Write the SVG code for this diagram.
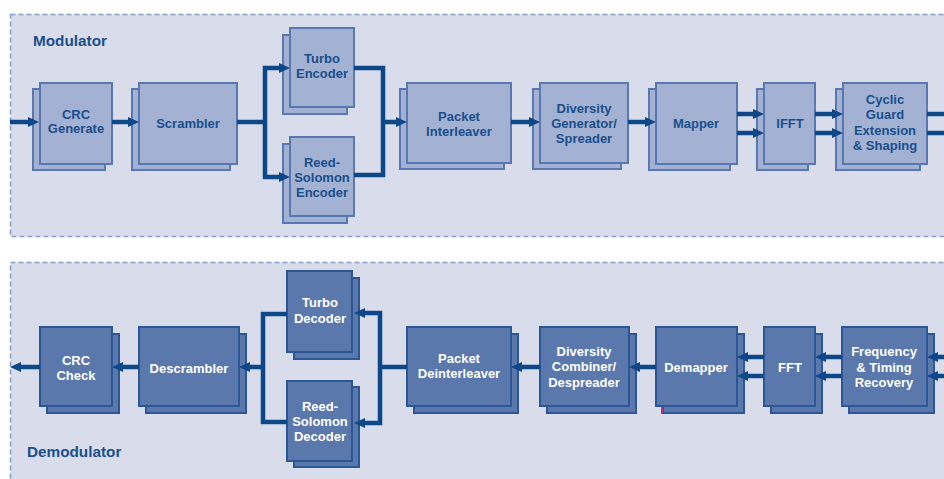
<svg xmlns="http://www.w3.org/2000/svg" width="944" height="479" viewBox="0 0 944 479">
<style>
.panel{fill:#d9ddeb;stroke:#8a9dca;stroke-width:1.6;stroke-dasharray:5 3}
.plabel{font-family:"Liberation Sans",Arial,sans-serif;font-weight:bold;font-size:15.3px;fill:#1a4f8c}
.tm rect{fill:#a3b1d3;stroke:#5977b1;stroke-width:2}
.bm rect{fill:#5b78ad;stroke:#2d5696;stroke-width:2}
.t{font-family:"Liberation Sans",Arial,sans-serif;font-weight:bold;font-size:13px;text-anchor:middle}
.tm text{fill:#1a4f8c}
.bm text{fill:#ffffff}
.c path{fill:none;stroke:#0c4788;stroke-width:4.5;stroke-linejoin:miter}
</style>
<defs>
<marker id="ah" viewBox="0 0 11 11" refX="2" refY="5.5" markerWidth="11" markerHeight="11" markerUnits="userSpaceOnUse" orient="auto-start-reverse">
<path d="M0,0.5 L11,5.5 L0,10.5 z" fill="#0c4788"/>
</marker>
</defs>
<rect width="944" height="479" fill="#ffffff"/>
<rect class="panel" x="10.5" y="14.5" width="960" height="222"/>
<rect class="panel" x="10.5" y="262.5" width="960" height="240"/>
<text class="plabel" x="33" y="46">Modulator</text>
<text class="plabel" x="27" y="457">Demodulator</text>

<g id="crc-generate" class="tm">
<rect x="33" y="89" width="72" height="81"/><rect x="40" y="83" width="72" height="81"/>
<text class="t" x="76" y="119">CRC</text><text class="t" x="76" y="133">Generate</text>
</g>
<g id="scrambler" class="tm">
<rect x="132" y="89" width="98" height="81"/><rect x="139" y="83" width="98" height="81"/>
<text class="t" x="188" y="128">Scrambler</text>
</g>
<g id="turbo-encoder" class="tm">
<rect x="283" y="35" width="64" height="79"/><rect x="290" y="28" width="64" height="79"/>
<text class="t" x="322" y="63">Turbo</text><text class="t" x="322" y="78">Encoder</text>
</g>
<g id="rs-encoder" class="tm">
<rect x="283" y="144" width="64" height="79"/><rect x="290" y="137" width="64" height="79"/>
<text class="t" x="322" y="167">Reed-</text><text class="t" x="322" y="182">Solomon</text><text class="t" x="322" y="197">Encoder</text>
</g>
<g id="packet-interleaver" class="tm">
<rect x="400" y="89" width="104" height="80"/><rect x="407" y="83" width="104" height="80"/>
<text class="t" x="459" y="121">Packet</text><text class="t" x="459" y="136">Interleaver</text>
</g>
<g id="diversity-generator" class="tm">
<rect x="533" y="89" width="88" height="80"/><rect x="540" y="83" width="88" height="80"/>
<text class="t" x="584" y="113">Diversity</text><text class="t" x="584" y="128">Generator/</text><text class="t" x="584" y="143">Spreader</text>
</g>
<g id="mapper" class="tm">
<rect x="649" y="89" width="81" height="81"/><rect x="656" y="83" width="81" height="81"/>
<text class="t" x="696" y="128">Mapper</text>
</g>
<g id="ifft" class="tm">
<rect x="757" y="89" width="51" height="81"/><rect x="764" y="83" width="51" height="81"/>
<text class="t" x="790" y="128">IFFT</text>
</g>
<g id="cyclic-guard" class="tm">
<rect x="836" y="89" width="84" height="81"/><rect x="843" y="83" width="84" height="81"/>
<text class="t" x="885" y="104">Cyclic</text><text class="t" x="885" y="119">Guard</text><text class="t" x="885" y="135">Extension</text><text class="t" x="885" y="150">&amp; Shaping</text>
</g>

<g id="crc-check" class="bm">
<rect x="47" y="334" width="72" height="79"/><rect x="40" y="327" width="72" height="79"/>
<text class="t" x="76" y="365">CRC</text><text class="t" x="76" y="380">Check</text>
</g>
<g id="descrambler" class="bm">
<rect x="146" y="334" width="100" height="79"/><rect x="139" y="327" width="100" height="79"/>
<text class="t" x="189" y="373">Descrambler</text>
</g>
<g id="turbo-decoder" class="bm">
<rect x="294" y="278" width="65" height="81"/><rect x="287" y="271" width="65" height="81"/>
<text class="t" x="320" y="307">Turbo</text><text class="t" x="320" y="323">Decoder</text>
</g>
<g id="rs-decoder" class="bm">
<rect x="294" y="387" width="65" height="80"/><rect x="287" y="381" width="65" height="80"/>
<text class="t" x="320" y="411">Reed-</text><text class="t" x="320" y="426">Solomon</text><text class="t" x="320" y="441">Decoder</text>
</g>
<g id="packet-deinterleaver" class="bm">
<rect x="414" y="334" width="104" height="79"/><rect x="407" y="327" width="104" height="79"/>
<text class="t" x="459" y="363">Packet</text><text class="t" x="459" y="378">Deinterleaver</text>
</g>
<g id="diversity-combiner" class="bm">
<rect x="547" y="334" width="89" height="79"/><rect x="540" y="327" width="89" height="79"/>
<text class="t" x="584" y="356">Diversity</text><text class="t" x="584" y="371">Combiner/</text><text class="t" x="584" y="387">Despreader</text>
</g>
<g id="demapper" class="bm">
<rect x="663" y="334" width="81" height="79"/><rect x="656" y="327" width="81" height="79"/>
<text class="t" x="696" y="372">Demapper</text>
</g>
<g id="fft" class="bm">
<rect x="771" y="334" width="51" height="79"/><rect x="764" y="327" width="51" height="79"/>
<text class="t" x="790" y="372">FFT</text>
</g>
<g id="freq-timing" class="bm">
<rect x="849" y="334" width="85" height="79"/><rect x="842" y="327" width="85" height="79"/>
<text class="t" x="884" y="356">Frequency</text><text class="t" x="884" y="372">&amp; Timing</text><text class="t" x="884" y="387">Recovery</text>
</g>
<rect x="661" y="407" width="2" height="7" fill="#c0307a"/>

<g class="c">
<path d="M10,122 H30" marker-end="url(#ah)"/>
<path d="M112,122 H130" marker-end="url(#ah)"/>
<path d="M237,122 H265"/>
<path d="M281,68 H265 V177 H281" marker-start="url(#ah)" marker-end="url(#ah)"/>
<path d="M354,68 H383 V175 H354"/>
<path d="M383,122 H398" marker-end="url(#ah)"/>
<path d="M511,122 H531" marker-end="url(#ah)"/>
<path d="M628,122 H647" marker-end="url(#ah)"/>
<path d="M737,114 H755" marker-end="url(#ah)"/>
<path d="M737,133 H755" marker-end="url(#ah)"/>
<path d="M815,114 H834" marker-end="url(#ah)"/>
<path d="M815,133 H834" marker-end="url(#ah)"/>
<path d="M927,114 H946"/>
<path d="M927,133 H946"/>

<path d="M946,357 H936" marker-end="url(#ah)"/>
<path d="M946,376 H936" marker-end="url(#ah)"/>
<path d="M842,357 H824" marker-end="url(#ah)"/>
<path d="M842,376 H824" marker-end="url(#ah)"/>
<path d="M764,357 H746" marker-end="url(#ah)"/>
<path d="M764,376 H746" marker-end="url(#ah)"/>
<path d="M656,367 H638" marker-end="url(#ah)"/>
<path d="M540,367 H520" marker-end="url(#ah)"/>
<path d="M407,367 H380"/>
<path d="M363,313 H380 V423 H363" marker-start="url(#ah)" marker-end="url(#ah)"/>
<path d="M287,314 H263 V422 H287"/>
<path d="M263,367 H248" marker-end="url(#ah)"/>
<path d="M139,367 H121" marker-end="url(#ah)"/>
<path d="M40,367 H19" marker-end="url(#ah)"/>
</g>
</svg>
